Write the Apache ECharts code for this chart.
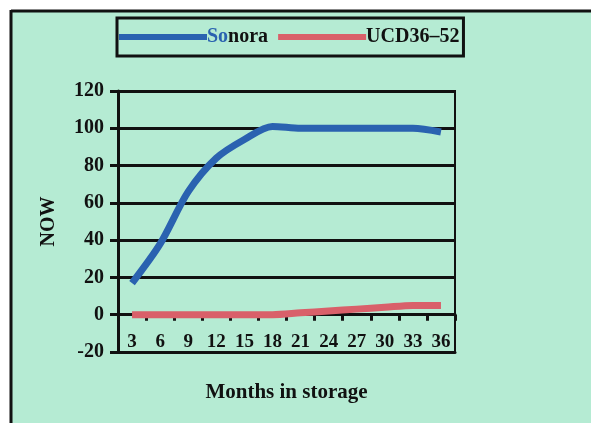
<!DOCTYPE html>
<html><head><meta charset="utf-8">
<script src="https://cdn.jsdelivr.net/npm/echarts@6/dist/echarts.min.js"></script>
<style>html,body{margin:0;padding:0;background:#fff;}#c{width:591px;height:423px;}</style>
</head><body><div id="c"></div>
<script>
var categories = ['3','6','9','12','15','18','21','24','27','30','33','36'];
var sonora = [17, 38, 66, 84, 94, 101, 100, 100, 100, 100, 100, 98];
var ucd = [0, 0, 0, 0, 0, 0, 1, 2, 3, 4, 5, 5];
var yTicks = {min: -20, max: 120, interval: 20};

var serif = '"Liberation Serif","Times New Roman",serif';
var chart = echarts.init(document.getElementById('c'));
chart.setOption({
  animation: false,
  graphic: [
    {type:'rect', z:-10, shape:{x:11, y:11, width:600, height:420}, style:{fill:'#b5ebd3'}},
    {type:'line', z:-9, shape:{x1:11, y1:11, x2:600, y2:11}, style:{stroke:'#111', lineWidth:3}},
    {type:'line', z:-9, shape:{x1:11, y1:10, x2:11, y2:430}, style:{stroke:'#111', lineWidth:3}}
  ],
  legend: {
    left: 117, top: 18,
    padding: [9, 4, 9, 2],
    borderColor: '#111', borderWidth: 3,
    itemWidth: 88, itemHeight: 6, itemGap: 10,
    icon: 'rect',
    data: ['Sonora', 'UCD36-52'],
    formatter: function(n){ return n === 'Sonora' ? '{s|So}nora' : 'UCD36–52'; },
    textStyle: {fontFamily: serif, fontWeight: 'bold', fontSize: 20, color: '#111', padding: [0,0,0,-5],
      rich: {s: {color: '#2a62b0', fontFamily: serif, fontWeight: 'bold', fontSize: 20}}}
  },
  grid: {left: 118, right: 136, top: 91, bottom: 71, show: true, borderColor: '#111', borderWidth: 2},
  xAxis: [{
    type: 'category', data: categories, boundaryGap: true,
    axisLine: {onZero: true, lineStyle: {color: '#111', width: 3}},
    axisTick: {show: true, length: 6, lineStyle: {color: '#111', width: 3}},
    axisLabel: {show: false}
  }, {
    type: 'category', data: categories, boundaryGap: true, position: 'bottom',
    axisLine: {onZero: false, show: true, lineStyle: {color: '#111', width: 3}},
    axisTick: {show: false},
    axisLabel: {inside: true, margin: 0, fontFamily: serif, fontWeight: 'bold', fontSize: 19, color: '#111', verticalAlign: 'bottom'},
    name: 'Months in storage', nameLocation: 'middle', nameGap: 30,
    nameTextStyle: {fontFamily: serif, fontWeight: 'bold', fontSize: 21, color: '#111'}
  }],
  yAxis: {
    type: 'value', min: yTicks.min, max: yTicks.max, interval: yTicks.interval,
    axisLine: {show: true, lineStyle: {color: '#111', width: 3}},
    axisTick: {show: true, length: 8, lineStyle: {color: '#111', width: 3}},
    axisLabel: {margin: 14, fontFamily: serif, fontWeight: 'bold', fontSize: 20, color: '#111'},
    splitLine: {show: true, lineStyle: {color: '#111', width: 3}},
    name: 'NOW', nameLocation: 'middle', nameGap: 59,
    nameTextStyle: {fontFamily: serif, fontWeight: 'bold', fontSize: 20, color: '#111'}
  },
  series: [{
    name: 'Sonora', type: 'line', data: sonora, smooth: 0.3, symbol: 'none', xAxisIndex: 0,
    lineStyle: {color: '#2a62b0', width: 7}, itemStyle: {color: '#2a62b0'}, z: 5
  }, {
    name: 'UCD36-52', type: 'line', data: ucd, smooth: 0.3, symbol: 'none', xAxisIndex: 0,
    lineStyle: {color: '#d9606a', width: 7}, itemStyle: {color: '#d9606a'}, z: 5
  }]
});
</script></body></html>
